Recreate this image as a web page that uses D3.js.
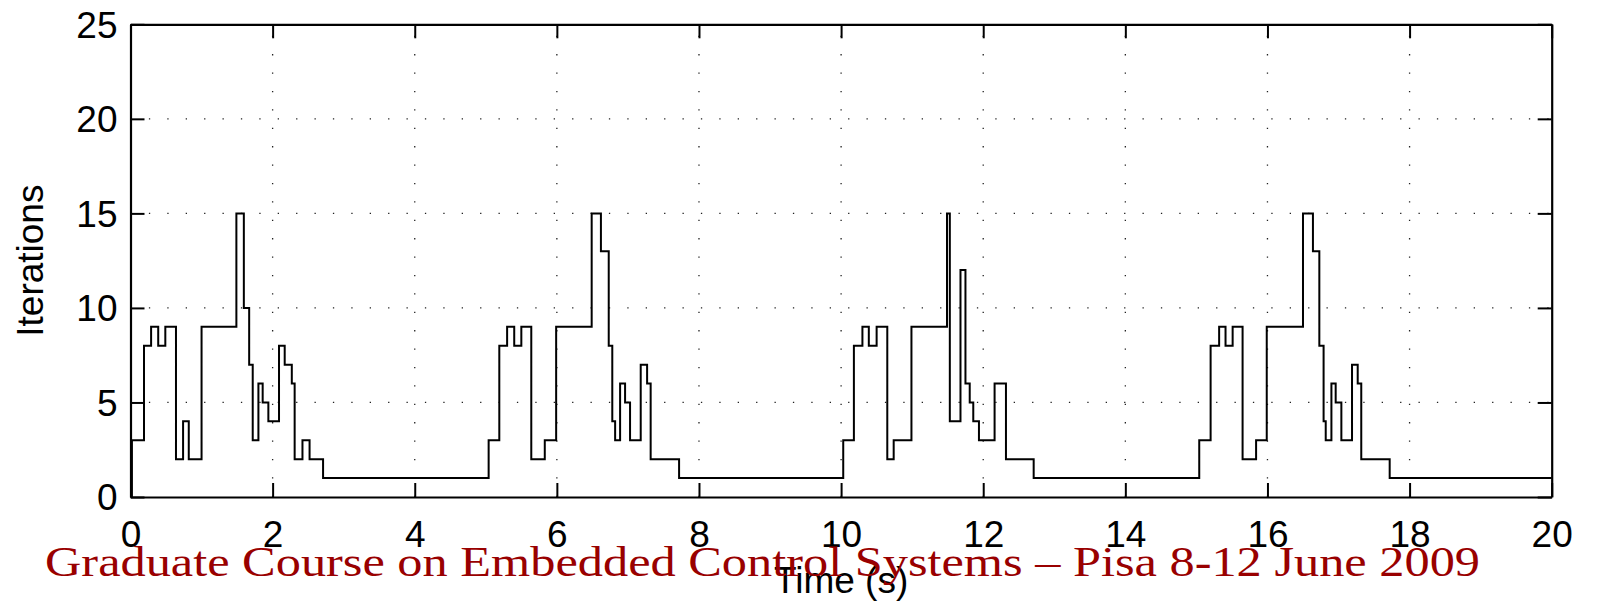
<!DOCTYPE html>
<html>
<head>
<meta charset="utf-8">
<script src="https://cdn.jsdelivr.net/npm/d3@7"></script>
<style>
  html, body { margin: 0; padding: 0; background: #fff; }
  svg { display: block; }
</style>
</head>
<body>
<svg id="chart" width="1598" height="604"></svg>
<script>
// Solver iterations per control step (step-after signal)
const stepTimes = [
  0, 0.02, 0.19, 0.29, 0.39, 0.49, 0.64, 0.74, 0.82, 1.00, 1.49, 1.595, 1.67, 1.72, 1.80, 1.86, 1.94, 2.09, 2.17, 2.27, 2.31, 2.42, 2.52, 2.71,
  5.04, 5.19, 5.30, 5.40, 5.50, 5.64, 5.83, 5.99, 6.49, 6.62, 6.73, 6.78, 6.82, 6.89, 6.96, 7.03, 7.18, 7.27, 7.32, 7.72,
  10.03, 10.18, 10.30, 10.39, 10.50, 10.65, 10.74, 10.99, 11.49, 11.53, 11.68, 11.75, 11.81, 11.86, 11.94, 12.16, 12.32, 12.71,
  15.04, 15.20, 15.32, 15.41, 15.51, 15.65, 15.84, 15.99, 16.50, 16.64, 16.73, 16.79, 16.82, 16.90, 16.96, 17.04, 17.19, 17.27, 17.32, 17.72,
  20
];
const iterations = [
  0, 3, 8, 9, 8, 9, 2, 4, 2, 9, 15, 10, 7, 3, 6, 5, 4, 8, 7, 6, 2, 3, 2, 1,
  3, 8, 9, 8, 9, 2, 3, 9, 15, 13, 8, 4, 3, 6, 5, 3, 7, 6, 2, 1,
  3, 8, 9, 8, 9, 2, 3, 9, 15, 4, 12, 6, 5, 4, 3, 6, 2, 1,
  3, 8, 9, 8, 9, 2, 3, 9, 15, 13, 8, 4, 3, 6, 5, 3, 7, 6, 2, 1,
  1
];
const xTicks = [0, 2, 4, 6, 8, 10, 12, 14, 16, 18, 20];
const yTicks = [0, 5, 10, 15, 20, 25];
const xLabel = "Time (s)";
const yLabel = "Iterations";
const footer = "Graduate Course on Embedded Control Systems \u2013 Pisa 8-12 June 2009";

const svg = d3.select("#chart");
const plotL = 130.5, plotR = 1551.7, plotT = 24.3, plotB = 497;

const x = d3.scaleLinear().domain([0, 20]).range([plotL, plotR]);
const y = d3.scaleLinear().domain([0, 25]).range([plotB, plotT]);

const axisFont = "'Liberation Sans', Arial, Helvetica, sans-serif";
const tickLen = 14;

// dotted grid
const grid = svg.append("g")
  .attr("stroke", "#222")
  .attr("stroke-width", 1.3)
  .attr("stroke-dasharray", "1.3,17.1")
  .attr("fill", "none");
grid.selectAll(".gx").data(xTicks.slice(1, -1)).join("line")
  .attr("x1", d => x(d)).attr("x2", d => x(d))
  .attr("y1", plotB).attr("y2", plotT);
grid.selectAll(".gy").data(yTicks.slice(1, -1)).join("line")
  .attr("x1", plotL).attr("x2", plotR)
  .attr("y1", d => y(d)).attr("y2", d => y(d));

// step trace
const pts = stepTimes.map((t, i) => [t, iterations[i]]);
const line = d3.line()
  .x(d => x(d[0]))
  .y(d => y(d[1]))
  .curve(d3.curveStepAfter);
svg.append("path")
  .datum(pts)
  .attr("d", line)
  .attr("fill", "none")
  .attr("stroke", "#000")
  .attr("stroke-width", 2)
  .attr("stroke-linejoin", "miter");

// axes (ticks inward, mirrored on top and right)
const axB = svg.append("g").attr("transform", `translate(0,${plotB})`)
  .call(d3.axisBottom(x).tickValues(xTicks).tickSizeInner(-tickLen).tickSizeOuter(0).tickPadding(24));
const axT = svg.append("g").attr("transform", `translate(0,${plotT})`)
  .call(d3.axisTop(x).tickValues(xTicks).tickSizeInner(-tickLen).tickSizeOuter(0).tickFormat(""));
const axL = svg.append("g").attr("transform", `translate(${plotL},0)`)
  .call(d3.axisLeft(y).tickValues(yTicks).tickSizeInner(-tickLen).tickSizeOuter(0).tickPadding(13));
const axR = svg.append("g").attr("transform", `translate(${plotR},0)`)
  .call(d3.axisRight(y).tickValues(yTicks).tickSizeInner(-tickLen).tickSizeOuter(0).tickFormat(""));

[axB, axT, axL, axR].forEach(g => {
  g.select(".domain").attr("stroke", "#000").attr("stroke-width", 2.2);
  g.selectAll(".tick line").attr("stroke", "#000").attr("stroke-width", 2);
  g.selectAll(".tick text")
    .attr("fill", "#000")
    .style("font-family", axisFont)
    .style("font-size", "37px");
});
axB.selectAll(".tick text").attr("dy", "0.71em");
axL.selectAll(".tick text").attr("dy", "0.35em");

// axis titles
svg.append("text")
  .attr("x", (plotL + plotR) / 2)
  .attr("y", 593)
  .attr("text-anchor", "middle")
  .style("font-family", axisFont)
  .style("font-size", "37px")
  .text(xLabel);
svg.append("text")
  .attr("transform", `translate(43,${(plotT + plotB) / 2}) rotate(-90)`)
  .attr("text-anchor", "middle")
  .style("font-family", axisFont)
  .style("font-size", "37px")
  .text(yLabel);

// course footer
svg.append("text")
  .attr("x", 45)
  .attr("y", 576)
  .attr("textLength", 1435)
  .attr("lengthAdjust", "spacingAndGlyphs")
  .attr("fill", "#990000")
  .style("font-family", "'Liberation Serif', 'DejaVu Serif', serif")
  .style("font-size", "43px")
  .text(footer);
</script>
</body>
</html>
